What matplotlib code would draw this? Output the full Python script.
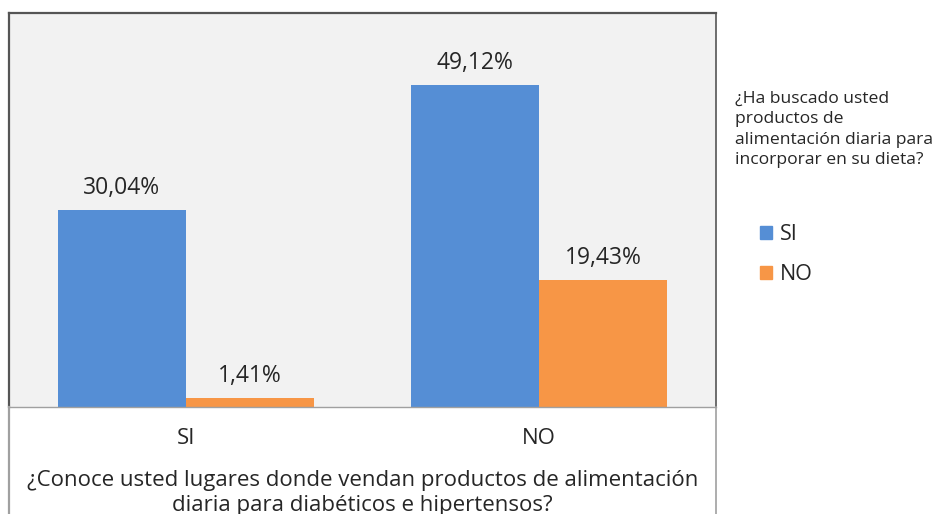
import matplotlib.pyplot as plt
import numpy as np
from matplotlib.lines import Line2D
from matplotlib.patches import Patch

# Survey answers, percent of respondents
categories = ["SI", "NO"]
series_names = ["SI", "NO"]
values_si = [30.04, 49.12]
values_no = [1.41, 19.43]

x_title = ("¿Conoce usted lugares donde vendan productos de alimentación\n"
           "diaria para diabéticos e hipertensos?")
legend_title = ("¿Ha buscado usted\nproductos de\n"
                "alimentación diaria para\nincorporar en su dieta?")

BLUE = "#558ED5"
ORANGE = "#F79646"
TEXT = "#262626"

plt.rcParams["font.family"] = ["Open Sans", "DejaVu Sans"]

W, H = 935, 514
fig = plt.figure(figsize=(W / 100, H / 100), dpi=100)
ax = fig.add_axes([9 / W, 1 - 407 / H, (716 - 9) / W, (407 - 13) / H])
ax.set_facecolor("#F2F2F2")

x = np.arange(len(categories))
width = 0.3625
b1 = ax.bar(x - width / 2, values_si, width, color=BLUE, label=series_names[0])
b2 = ax.bar(x + width / 2, values_no, width, color=ORANGE, label=series_names[1])

for bars, vals in ((b1, values_si), (b2, values_no)):
    for rect, v in zip(bars, vals):
        ax.annotate(f"{v:.2f}%".replace(".", ","),
                    (rect.get_x() + rect.get_width() / 2, v),
                    xytext=(0, 7), textcoords="offset points",
                    ha="center", va="bottom", fontsize=16.5, color=TEXT)

ax.set_xlim(-0.5, 1.5)
ax.set_ylim(0, 60.1)
ax.set_yticks([])
ax.set_xticks(x)
ax.set_xticklabels(categories, fontsize=16, color=TEXT)
ax.tick_params(axis="x", length=0, pad=15)
ax.set_xlabel(x_title, fontsize=16, color=TEXT, labelpad=15, linespacing=1.27)

for side in ("top", "left"):
    ax.spines[side].set_color("#555555")
    ax.spines[side].set_linewidth(1.6)
ax.spines["right"].set_color("#555555")
ax.spines["right"].set_linewidth(1.2)
ax.spines["bottom"].set_color("#A0A0A0")
ax.spines["bottom"].set_linewidth(1.0)

# frame sides continuing under the plot area
fig.add_artist(Line2D([9 / W, 9 / W], [0, 1 - 407 / H], color="#A0A0A0", lw=1.6))
fig.add_artist(Line2D([716 / W, 716 / W], [0, 1 - 407 / H], color="#A0A0A0", lw=1.2))

fig.text(735 / W, 1 - 91 / H, legend_title, fontsize=12.6, color=TEXT,
         ha="left", va="top", linespacing=1.36)

handles = [Patch(color=BLUE), Patch(color=ORANGE)]
fig.legend(handles, series_names, loc="upper left",
           bbox_to_anchor=(741 / W, 1 - 205 / H), frameon=False,
           fontsize=15.5, handlelength=0.55, handleheight=0.55,
           handletextpad=0.35, labelspacing=0.85, labelcolor=TEXT)

fig.savefig("out.png", dpi=100)
